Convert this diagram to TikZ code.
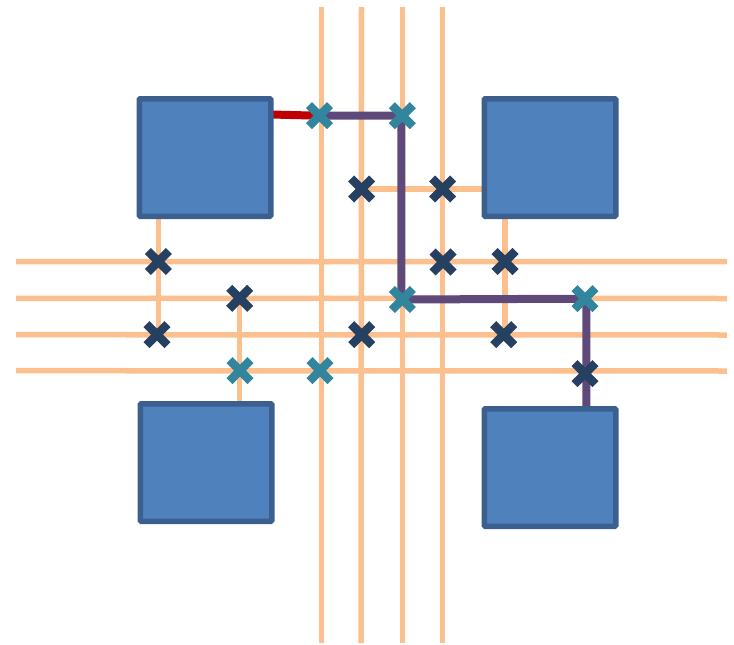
\documentclass[tikz,border=0pt]{standalone}
\usetikzlibrary{shapes.misc,backgrounds}
\definecolor{wire}{HTML}{FCC08E}
\definecolor{route}{HTML}{5F497A}
\definecolor{start}{HTML}{C00000}
\definecolor{blockfill}{HTML}{4F81BD}
\definecolor{blockedge}{HTML}{3B5F8F}
\definecolor{switchoff}{HTML}{254061}
\definecolor{switchon}{HTML}{31859C}
\tikzset{
  block/.style={draw=blockedge,fill=blockfill,line width=5.5pt,rounded corners=1pt,minimum width=131.5pt,minimum height=117.5pt,inner sep=0pt,outer sep=0pt},
  xoff/.style={cross out,draw=switchoff,line width=8.5pt,minimum size=21pt,inner sep=0pt,outer sep=0pt},
  xon/.style={cross out,draw=switchon,line width=8.5pt,minimum size=21pt,inner sep=0pt,outer sep=0pt},
  wireline/.style={draw=wire,line width=5.5pt},
  routeline/.style={draw=route,line width=8pt,line join=miter},
  startline/.style={draw=start,line width=8pt}
}
\begin{document}
\begin{tikzpicture}[x=1pt,y=-1pt]
\useasboundingbox (0,0) rectangle (734,645);
% blocks
\node[block] (b1) at (205,157.5) {};
\node[block] (b2) at (550,157.5) {};
\node[block] (b3) at (206,462.5) {};
\node[block] (b4) at (550,467.5) {};
% switches
\node[xon] (s1) at (319.5,115.7) {};
\node[xon] (s2) at (402.3,115.7) {};
\node[xon] (s3) at (402.3,299.5) {};
\node[xon] (s4) at (585,298.7) {};
\node[xon] (s5) at (240,370.7) {};
\node[xon] (s6) at (320,370.7) {};
\node[xoff] (d1) at (361.7,189) {};
\node[xoff] (d2) at (442.7,189) {};
\node[xoff] (d3) at (158.3,261.5) {};
\node[xoff] (d4) at (443,262) {};
\node[xoff] (d5) at (505,261.5) {};
\node[xoff] (d6) at (239.7,298.3) {};
\node[xoff] (d7) at (157,334.7) {};
\node[xoff] (d8) at (361.7,334.7) {};
\node[xoff] (d9) at (503.7,334.7) {};
\node[xoff] (d10) at (585,373.7) {};
% routing corners
\coordinate (r1) at (401.3,115.7);
\coordinate (r2) at (401.3,299.5);
\coordinate (r3) at (586.3,298.7);
% free ends of the wires
\coordinate (vt1) at (321.5,7); \coordinate (vb1) at (321.5,643);
\coordinate (vt2) at (361.5,7); \coordinate (vb2) at (361,643);
\coordinate (vt3) at (402.5,7); \coordinate (vb3) at (402.5,643);
\coordinate (vt4) at (442.5,7); \coordinate (vb4) at (442.5,643);
\coordinate (hl1) at (16,261.5); \coordinate (hr1) at (727,261.7);
\coordinate (hl2) at (16,298.3); \coordinate (hr2) at (727,298.5);
\coordinate (hl3) at (16,334.7); \coordinate (hr3) at (727,335);
\coordinate (hl4) at (16,370.7); \coordinate (hr4) at (727,371);
\begin{pgfonlayer}{background}
  \draw[wireline] (vt1) -- (vb1);
  \draw[wireline] (vt2) -- (vb2);
  \draw[wireline] (vt3) -- (vb3);
  \draw[wireline] (vt4) -- (vb4);
  \draw[wireline] (hl1) -- (hr1);
  \draw[wireline] (hl2) -- (hr2);
  \draw[wireline] (hl3) -- (hr3);
  \draw[wireline] (hl4) -- (hr4);
  \draw[wireline] (d3.center |- b1.south) -- (d3.center |- d7.center);
  \draw[wireline] (d6.center) -- (d6.center |- b3.north);
  \draw[wireline] (d1.center) -- (d1.center -| b2.west);
  \draw[wireline] (d5.center |- b2.south) -- (d5.center |- d9.center);
  \draw[startline] (b1.east |- 0,114.5) -- (s1.center);
  \draw[routeline] (s1.center) -- (r1) -- (r2) -- (r3) -- (r3 |- b4.north);
\end{pgfonlayer}
\end{tikzpicture}
\end{document}
